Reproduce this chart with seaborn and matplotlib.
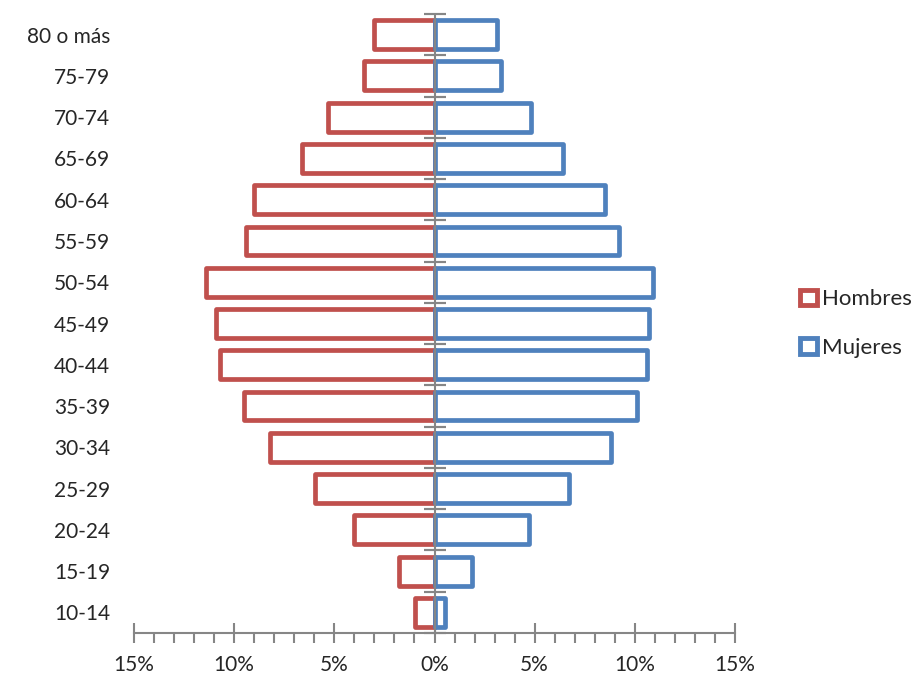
import numpy as np
import pandas as pd
import seaborn as sns
import matplotlib.pyplot as plt
import matplotlib.patheffects as pe
from matplotlib.ticker import FuncFormatter, MultipleLocator

# Age groups, top to bottom as shown
grupos = ["80 o más", "75-79", "70-74", "65-69", "60-64", "55-59", "50-54",
          "45-49", "40-44", "35-39", "30-34", "25-29", "20-24", "15-19", "10-14"]
# Percent of population
hombres = [3.0, 3.5, 5.3, 6.6, 9.0, 9.4, 11.4, 10.9, 10.7, 9.5, 8.2, 5.95, 4.0, 1.75, 0.95]
mujeres = [3.1, 3.3, 4.8, 6.4, 8.5, 9.2, 10.9, 10.7, 10.6, 10.1, 8.8, 6.7, 4.7, 1.85, 0.5]

rojo = "#C0504D"
azul = "#4F81BD"
gris = "#868686"

df = pd.concat([
    pd.DataFrame({"grupo": grupos, "valor": [-v for v in hombres], "sexo": "Hombres"}),
    pd.DataFrame({"grupo": grupos, "valor": mujeres, "sexo": "Mujeres"}),
])

sns.set_style("white")
plt.rcParams["font.family"] = ["Lato", "DejaVu Sans"]

fig = plt.figure(figsize=(9.22, 6.77), dpi=100)
ax = fig.add_axes([134 / 922, 44 / 677, 601 / 922, 619 / 677])

sns.barplot(data=df, x="valor", y="grupo", hue="sexo", order=grupos,
            hue_order=["Hombres", "Mujeres"], palette=[rojo, azul],
            dodge=False, fill=False, width=0.7, linewidth=3.4, ax=ax, legend=False)

for p in ax.patches:
    p.set_fill(True)
    p.set_facecolor("white")
    p.set_joinstyle("round")
    p.set_path_effects([pe.SimplePatchShadow(offset=(1.2, -1.2), shadow_rgbFace="#999999", alpha=0.35),
                        pe.Normal()])

ax.set_xlim(-15, 15)
ax.set_ylim(len(grupos) - 0.5, -0.5)
ax.set_xlabel("")
ax.set_ylabel("")

for s in ["top", "right", "left"]:
    ax.spines[s].set_visible(False)
ax.spines["bottom"].set_color(gris)
ax.spines["bottom"].set_linewidth(1.5)

ax.xaxis.set_major_locator(MultipleLocator(5))
ax.xaxis.set_minor_locator(MultipleLocator(1))
ax.xaxis.set_major_formatter(FuncFormatter(lambda v, _: f"{abs(v):.0f}%"))
ax.tick_params(axis="x", which="major", bottom=True, direction="inout", length=14, width=1.5,
               color=gris, labelsize=15, pad=9)
ax.tick_params(axis="x", which="minor", bottom=True, direction="out", length=7, width=1.5, color=gris)
ax.tick_params(axis="y", length=0, labelsize=15, pad=17)

# central axis with ticks between groups
ax.axvline(0, color=gris, linewidth=1.5, zorder=5)
sec = ax.secondary_yaxis(0.5)
sec.set_yticks(np.arange(-0.5, len(grupos), 1))
sec.set_yticklabels([])
sec.tick_params(left=True, direction="inout", length=16, width=1.5, color=gris)
for s in ["top", "right", "bottom", "left"]:
    sec.spines[s].set_visible(False)

handles = [plt.Rectangle((0, 0), 1, 1, facecolor="white", edgecolor=c, linewidth=3.5)
           for c in [rojo, azul]]
ax.legend(handles, ["Hombres", "Mujeres"], loc="center left", bbox_to_anchor=(1.09, 0.5),
          frameon=False, fontsize=16, handlelength=0.75, handleheight=0.7,
          handletextpad=0.25, labelspacing=1.3, borderpad=0)

fig.savefig("out.png", dpi=100)
